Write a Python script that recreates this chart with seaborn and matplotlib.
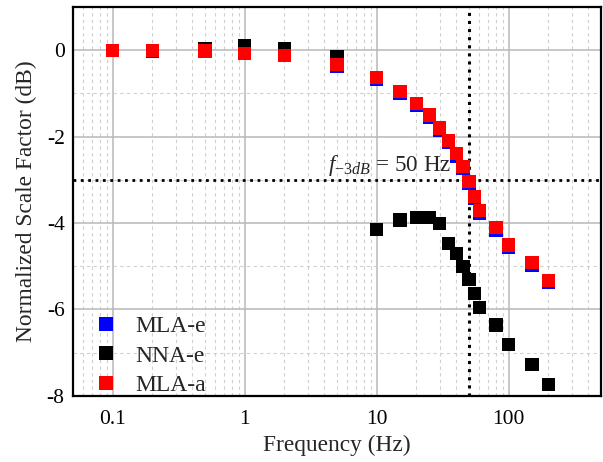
import numpy as np
import pandas as pd
import matplotlib
matplotlib.use("Agg")
import matplotlib.pyplot as plt
import matplotlib.ticker as mticker
import seaborn as sns

# ---- data ----
freq = [0.1, 0.2, 0.5, 1, 2, 5, 10, 15, 20, 25, 30, 35, 40, 45, 50, 55, 60, 80, 100, 150, 200]
mla_e = [0.0, -0.02, -0.03, -0.08, -0.13, -0.37, -0.68, -1.00, -1.28, -1.55, -1.85, -2.14,
         -2.45, -2.74, -3.08, -3.43, -3.78, -4.17, -4.57, -4.97, -5.37]
nna_e = [0.0, 0.0, 0.03, 0.10, 0.03, -0.14, -4.14, -3.93, -3.87, -3.88, -4.01, -4.47,
         -4.70, -5.00, -5.31, -5.63, -5.95, -6.36, -6.81, -7.27, -7.73]
mla_a = [0.0, 0.0, -0.02, -0.07, -0.12, -0.34, -0.64, -0.95, -1.23, -1.50, -1.80, -2.09,
         -2.39, -2.69, -3.04, -3.38, -3.71, -4.11, -4.51, -4.92, -5.32]
series_names = ["MLA-e", "NNA-e", "MLA-a"]
series_colors = ["#0000ff", "#000000", "#ff0000"]
f3db = 50
ref_level = -3

df = pd.concat([
    pd.DataFrame({"Frequency": freq, "Value": v, "Series": n})
    for n, v in zip(series_names, [mla_e, nna_e, mla_a])
], ignore_index=True)

sns.set_style("white")
plt.rcParams["font.family"] = ["Liberation Serif", "DejaVu Serif"]
plt.rcParams["mathtext.fontset"] = "custom"
plt.rcParams["mathtext.rm"] = "Liberation Serif"
plt.rcParams["mathtext.it"] = "Liberation Serif:italic"
plt.rcParams["axes.unicode_minus"] = False

fig = plt.figure(figsize=(6.03, 4.62), dpi=100)
ax = fig.add_axes([0.121, 0.143, 0.8757, 0.842])

sns.scatterplot(data=df, x="Frequency", y="Value", hue="Series",
                hue_order=series_names, palette=series_colors,
                marker="s", s=90, linewidth=0, ax=ax, zorder=3)

ax.set_xscale("log")
ax.set_xlim(0.05, 500)
ax.set_ylim(-8, 1)
ax.set_yticks([0, -2, -4, -6, -8])
ax.yaxis.set_minor_locator(mticker.FixedLocator([-1, -3, -5, -7]))
ax.xaxis.set_major_locator(mticker.FixedLocator([0.1, 1, 10, 100]))
ax.xaxis.set_major_formatter(mticker.FixedFormatter(["0.1", "1", "10", "100"]))
ax.xaxis.set_minor_locator(mticker.LogLocator(base=10, subs=np.arange(2, 10), numticks=20))
ax.xaxis.set_minor_formatter(mticker.NullFormatter())

ax.grid(True, which="major", color="#b8b8b8", linewidth=1.1, linestyle="-", zorder=0)
ax.grid(True, which="minor", color="#d0d0d0", linewidth=0.8, linestyle=(0, (3, 3)), zorder=0)
ax.set_axisbelow(True)

ax.tick_params(which="major", direction="in", length=6, width=1.3, labelsize=15.5,
               top=False, right=False, colors="black")
ax.tick_params(axis="x", which="major", pad=10)
ax.tick_params(axis="y", which="major", pad=6)
ax.tick_params(which="minor", direction="in", length=3, width=1.0, top=False, right=False)
for sp in ax.spines.values():
    sp.set_color("black")
    sp.set_linewidth(1.6)

ax.axvline(f3db, color="black", linestyle=":", linewidth=2.2, zorder=2)
ax.axhline(ref_level, color="black", linestyle=":", linewidth=2.0, zorder=2)

ax.text(4.3, -2.8, r"$f_{\mathit{-3dB}}$ = 50 Hz", fontsize=16.6, ha="left", va="baseline")

ax.set_xlabel("Frequency (Hz)", fontsize=16.8, labelpad=4)
ax.set_ylabel("Normalized Scale Factor (dB)", fontsize=16.8, labelpad=7)

sns.move_legend(ax, "lower left", bbox_to_anchor=(0.042, 0.0), frameon=False,
                title=None, fontsize=17, handlelength=0.95, handletextpad=0.75,
                labelspacing=0.33, borderpad=0, borderaxespad=0, markerscale=1.05)

fig.savefig("out.png", dpi=100)
